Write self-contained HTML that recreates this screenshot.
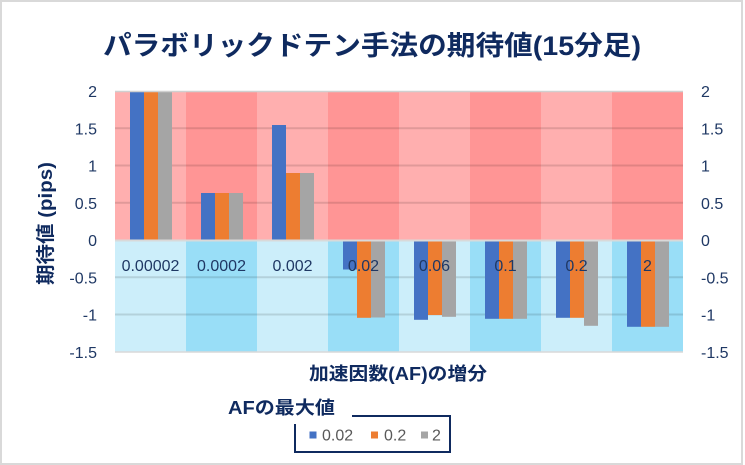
<!DOCTYPE html>
<html>
<head>
<meta charset="utf-8">
<style>
html,body{margin:0;padding:0;background:#fff;}
svg{display:block;}
text{font-family:"Liberation Sans","Noto Sans CJK JP",sans-serif;}
</style>
</head>
<body>
<svg width="745" height="465" viewBox="0 0 745 465" xmlns="http://www.w3.org/2000/svg">
  <rect x="0" y="0" width="745" height="465" fill="#fff"/>
  <rect x="1" y="1" width="741" height="463" fill="#fff" stroke="#D9D9D9" stroke-width="2"/>

  <!-- Title -->
  <text x="372" y="55" font-size="27" font-weight="bold" fill="#0F2A5F" text-anchor="middle" textLength="538" lengthAdjust="spacingAndGlyphs">パラボリックドテン手法の期待値(15分足)</text>

  <!-- backgrounds top -->
  <g>
    <rect x="115" y="91" width="71" height="149" fill="#FFAFAF"/>
    <rect x="186" y="91" width="71" height="149" fill="#FF9595"/>
    <rect x="257" y="91" width="71" height="149" fill="#FFAFAF"/>
    <rect x="328" y="91" width="71" height="149" fill="#FF9595"/>
    <rect x="399" y="91" width="71" height="149" fill="#FFAFAF"/>
    <rect x="470" y="91" width="71" height="149" fill="#FF9595"/>
    <rect x="541" y="91" width="71" height="149" fill="#FFAFAF"/>
    <rect x="612" y="91" width="71" height="149" fill="#FF9595"/>
  </g>
  <!-- backgrounds bottom -->
  <g>
    <rect x="115" y="240" width="71" height="112" fill="#CCEEFA"/>
    <rect x="186" y="240" width="71" height="112" fill="#99DEF7"/>
    <rect x="257" y="240" width="71" height="112" fill="#CCEEFA"/>
    <rect x="328" y="240" width="71" height="112" fill="#99DEF7"/>
    <rect x="399" y="240" width="71" height="112" fill="#CCEEFA"/>
    <rect x="470" y="240" width="71" height="112" fill="#99DEF7"/>
    <rect x="541" y="240" width="71" height="112" fill="#CCEEFA"/>
    <rect x="612" y="240" width="71" height="112" fill="#99DEF7"/>
  </g>

  <!-- gridlines -->
  <g stroke="#000" stroke-opacity="0.12" stroke-width="2">
    <line x1="115" y1="128.3" x2="683" y2="128.3"/>
    <line x1="115" y1="165.5" x2="683" y2="165.5"/>
    <line x1="115" y1="202.8" x2="683" y2="202.8"/>
    <line x1="115" y1="277.3" x2="683" y2="277.3"/>
    <line x1="115" y1="314.5" x2="683" y2="314.5"/>
  </g>

  <!-- bars -->
  <g>
    <!-- c0 -->
    <rect x="130" y="91" width="14" height="149" fill="#4472C4"/>
    <rect x="144" y="91" width="14" height="149" fill="#ED7D31"/>
    <rect x="158" y="91" width="14" height="149" fill="#A5A5A5"/>
    <!-- c1 -->
    <rect x="201" y="193" width="14" height="47" fill="#4472C4"/>
    <rect x="215" y="193" width="14" height="47" fill="#ED7D31"/>
    <rect x="229" y="193" width="14" height="47" fill="#A5A5A5"/>
    <!-- c2 -->
    <rect x="272" y="125" width="14" height="115" fill="#4472C4"/>
    <rect x="286" y="173" width="14" height="67" fill="#ED7D31"/>
    <rect x="300" y="173" width="14" height="67" fill="#A5A5A5"/>
    <!-- c3 -->
    <rect x="343" y="240" width="14" height="29.5" fill="#4472C4"/>
    <rect x="357" y="240" width="14" height="77.8" fill="#ED7D31"/>
    <rect x="371" y="240" width="14" height="77.5" fill="#A5A5A5"/>
    <!-- c4 -->
    <rect x="414" y="240" width="14" height="79.8" fill="#4472C4"/>
    <rect x="428" y="240" width="14" height="75" fill="#ED7D31"/>
    <rect x="442" y="240" width="14" height="76.8" fill="#A5A5A5"/>
    <!-- c5 -->
    <rect x="485" y="240" width="14" height="78.8" fill="#4472C4"/>
    <rect x="499" y="240" width="14" height="78.8" fill="#ED7D31"/>
    <rect x="513" y="240" width="14" height="78.8" fill="#A5A5A5"/>
    <!-- c6 -->
    <rect x="556" y="240" width="14" height="77.8" fill="#4472C4"/>
    <rect x="570" y="240" width="14" height="77.8" fill="#ED7D31"/>
    <rect x="584" y="240" width="14" height="85.8" fill="#A5A5A5"/>
    <!-- c7 -->
    <rect x="627" y="240" width="14" height="86.8" fill="#4472C4"/>
    <rect x="641" y="240" width="14" height="86.8" fill="#ED7D31"/>
    <rect x="655" y="240" width="14" height="86.8" fill="#A5A5A5"/>
  </g>

  <!-- axis lines -->
  <line x1="115" y1="91.5" x2="683" y2="91.5" stroke="#D0D0D0" stroke-width="1.5"/>
  <line x1="115" y1="240.5" x2="683" y2="240.5" stroke="#D9D9D9" stroke-width="2"/>
  <line x1="115" y1="352" x2="683" y2="352" stroke="#D9D9D9" stroke-width="1.5"/>

  <!-- category labels -->
  <g font-size="16" fill="#1F3864" text-anchor="middle">
    <text x="150.5" y="271">0.00002</text>
    <text x="221.5" y="271">0.0002</text>
    <text x="292.5" y="271">0.002</text>
    <text x="363.5" y="271">0.02</text>
    <text x="434.5" y="271">0.06</text>
    <text x="505.5" y="271">0.1</text>
    <text x="576.5" y="271">0.2</text>
    <text x="647.5" y="271">2</text>
  </g>

  <!-- left tick labels -->
  <g font-size="16" fill="#1F3864" text-anchor="end">
    <text x="97" y="97">2</text>
    <text x="97" y="134.3">1.5</text>
    <text x="97" y="171.5">1</text>
    <text x="97" y="208.8">0.5</text>
    <text x="97" y="246">0</text>
    <text x="97" y="283.3">-0.5</text>
    <text x="97" y="320.5">-1</text>
    <text x="97" y="357.8">-1.5</text>
  </g>
  <!-- right tick labels -->
  <g font-size="16" fill="#1F3864" text-anchor="start">
    <text x="701" y="97">2</text>
    <text x="701" y="134.3">1.5</text>
    <text x="701" y="171.5">1</text>
    <text x="701" y="208.8">0.5</text>
    <text x="701" y="246">0</text>
    <text x="701" y="283.3">-0.5</text>
    <text x="701" y="320.5">-1</text>
    <text x="701" y="357.8">-1.5</text>
  </g>

  <!-- Y axis title -->
  <text transform="translate(52,223.5) rotate(-90)" font-size="19" font-weight="bold" fill="#0F2A5F" text-anchor="middle" textLength="123" lengthAdjust="spacingAndGlyphs">期待値 (pips)</text>

  <!-- X axis title -->
  <text x="398" y="380" font-size="18" font-weight="bold" fill="#0F2A5F" text-anchor="middle" textLength="178" lengthAdjust="spacingAndGlyphs">加速因数(AF)の増分</text>

  <!-- Legend -->
  <path d="M352,416 H450 V452 H295 V424" fill="none" stroke="#0F2A5F" stroke-width="2"/>
  <text x="281.5" y="414" font-size="18" font-weight="bold" fill="#0F2A5F" text-anchor="middle" textLength="107" lengthAdjust="spacingAndGlyphs">AFの最大値</text>
  <rect x="309.5" y="431.5" width="7" height="7" fill="#4472C4"/>
  <text x="322" y="440.5" font-size="16" fill="#595959">0.02</text>
  <rect x="371" y="431.5" width="7" height="7" fill="#ED7D31"/>
  <text x="384" y="440.5" font-size="16" fill="#595959">0.2</text>
  <rect x="421" y="431.5" width="7" height="7" fill="#A5A5A5"/>
  <text x="432" y="440.5" font-size="16" fill="#595959">2</text>
</svg>
</body>
</html>
